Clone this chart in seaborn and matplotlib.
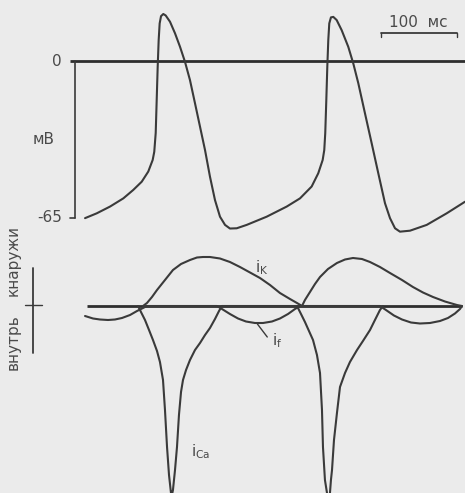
import numpy as np
import pandas as pd
import matplotlib
matplotlib.use("Agg")
import matplotlib.pyplot as plt
import seaborn as sns

# ---------------- data (time in ms, voltage in mV, currents in arb. units) ----
v_t = [13.2, 28.6, 46.1, 63.6, 76.7, 87.8, 96.4, 102.2, 104.3, 106.2, 107.5, 108.8, 110.1,
       111.4, 113.2, 116.2, 119.3, 125.0, 131.6, 138.2, 144.7, 151.3, 157.9, 164.5, 171.1,
       177.6, 184.2, 190.8, 197.4, 203.9, 212.8, 225.9, 252.2, 278.6, 296.1, 311.4, 320.1,
       325.9, 328.0, 329.3, 330.7, 332.0, 333.3, 334.6, 336.8, 339.9, 344.3, 350.9, 359.6,
       366.2, 372.8, 381.6, 390.4, 399.1, 407.9, 414.5, 421.1, 427.6, 440.8, 462.8, 489.1,
       513.2]
v_mv = [-65.1, -63.1, -60.3, -56.9, -53.4, -50.0, -45.8, -41.0, -37.6, -29.8, -16.1, -2.4,
        8.7, 15.6, 18.6, 19.5, 18.9, 16.3, 11.5, 5.9, -0.3, -7.9, -17.5, -27.2, -36.9, -47.9,
        -57.6, -64.5, -67.9, -69.4, -69.3, -67.9, -64.5, -60.3, -56.9, -52.0, -46.5, -41.0,
        -36.9, -29.9, -16.1, -2.4, 8.7, 15.6, 18.1, 18.3, 17.0, 12.8, 5.9, -1.0, -9.2, -21.7,
        -34.1, -46.5, -58.9, -65.1, -69.3, -70.7, -70.3, -67.9, -63.1, -58.3]

ik_t = [89.5, 94.7, 101.3, 107.9, 118.4, 128.9, 139.5, 151.3, 160.5, 168.4, 177.6, 190.8,
        203.9, 217.1, 230.3, 243.4, 256.6, 269.7, 282.9, 292.1, 298.7, 302.6, 309.2, 315.8,
        322.4, 332.9, 344.7, 355.3, 365.8, 377.6, 388.2, 401.3, 414.5, 430.3, 444.7, 457.9,
        471.1, 486.8, 502.6, 509.2]
ik_v = [0, 0.3, 0.9, 1.6, 2.6, 3.6, 4.2, 4.6, 4.85, 4.9, 4.9, 4.75, 4.4, 3.9, 3.35, 2.8,
        2.1, 1.3, 0.7, 0.3, 0, 0.6, 1.4, 2.2, 2.9, 3.7, 4.3, 4.65, 4.8, 4.7, 4.4, 3.9, 3.3,
        2.6, 1.9, 1.35, 0.9, 0.45, 0.1, 0]

if_t = [13.2, 23.7, 32.9, 43.4, 52.6, 61.8, 72.4, 81.6, 89.5, 94.7, 186.8, 193.4, 203.9,
        214.5, 225.0, 236.8, 247.4, 259.2, 269.7, 280.3, 289.5, 296.1, 401.3, 409.2, 419.7,
        430.3, 442.1, 453.9, 467.1, 480.3, 490.8, 500.0, 506.6, 509.2]
if_v = [-1.0, -1.25, -1.35, -1.4, -1.35, -1.2, -0.9, -0.5, -0.2, 0, 0, -0.3, -0.8, -1.25,
        -1.55, -1.7, -1.7, -1.55, -1.25, -0.8, -0.3, 0, 0, -0.4, -0.95, -1.35, -1.65, -1.75,
        -1.7, -1.5, -1.2, -0.75, -0.3, 0]

ica_t = [82.9, 86.8, 92.1, 97.4, 102.6, 107.9, 111.8, 115.8, 118.4, 121.1, 123.7, 126.3,
         127.0, 128.9, 131.6, 134.2, 136.8, 139.5, 142.1, 146.1, 151.3, 157.9, 164.5, 171.1,
         177.6, 184.2, 189.5, 193.4, 292.1, 297.4, 302.6, 307.9, 313.2, 318.4, 322.4, 325.0,
         326.3, 328.9, 331.6, 333.6, 335.5, 336.8, 338.2, 340.8, 344.7, 348.7, 355.3, 361.8,
         371.1, 378.9, 388.2, 394.7, 401.3, 405.3]
ica_v = [0, -0.6, -1.4, -2.4, -3.4, -4.5, -5.6, -7.4, -10.4, -14.1, -16.9, -18.7, -19.1,
         -18.4, -16.4, -14.1, -10.9, -8.6, -7.4, -6.4, -5.4, -4.4, -3.7, -2.9, -2.2, -1.3,
         -0.5, 0, 0, -0.8, -1.6, -2.5, -3.4, -4.9, -6.7, -10.4, -14.1, -17.4, -18.7, -19.1,
         -18.7, -17.4, -16.4, -13.4, -10.7, -8.1, -6.7, -5.6, -4.4, -3.5, -2.4, -1.4, -0.4, 0]

volt_ticks = ["0", "-65"]
scale_label = "100  мс"
unit_label = "мВ"
out_label = "кнаружи"
in_label = "внутрь"
curr_labels = [r"$\mathregular{i_K}$", r"$\mathregular{i_f}$", r"$\mathregular{i_{Ca}}$"]

# ---------------- figure ----------------
sns.set_theme(style="white")
plt.rcParams["font.family"] = ["DejaVu Sans"]
plt.rcParams["mathtext.fontset"] = "dejavusans"

BG = "#ebebeb"
INK = "#3a3a3a"
TXT = "#4a4a4a"
FS = 11

fig = plt.figure(figsize=(4.65, 4.93), dpi=100, facecolor=BG)
ax_v = fig.add_axes([0, 1 - 250 / 493, 1, 250 / 493])
ax_i = fig.add_axes([0, 0, 1, 243 / 493])
for ax in (ax_v, ax_i):
    ax.set_facecolor(BG)
    ax.set_xlim(-98.7, 513.2)
    ax.set_axis_off()
ax_v.set_ylim(-78.3, 25.3)
ax_i.set_ylim(-18.7, 5.6)

# ---- voltage panel ----
ax_v.plot([-6.6, 513.2], [0, 0], color="#2e2e2e", lw=2.0, solid_capstyle="butt")
ax_v.plot([0, 0], [0, -65], color=INK, lw=1.2)
ax_v.plot([-6.6, 0], [-65, -65], color=INK, lw=1.2)
sns.lineplot(x=v_t, y=v_mv, ax=ax_v, sort=False, estimator=None, color=INK, lw=1.5)
ax_v.text(-17, 0, volt_ticks[0], ha="right", va="center", fontsize=FS, color=TXT)
ax_v.text(-17, -65, volt_ticks[1], ha="right", va="center", fontsize=FS, color=TXT)
ax_v.text(-41, -32.7, unit_label, ha="center", va="center", fontsize=FS, color=TXT)
# 100 ms scale bar
ax_v.plot([402.6, 502.6], [11.6, 11.6], color=INK, lw=1.3)
ax_v.plot([402.6, 402.6], [11.6, 10.0], color=INK, lw=1.0)
ax_v.plot([502.6, 502.6], [11.6, 10.0], color=INK, lw=1.0)
ax_v.text(452, 15.8, scale_label, ha="center", va="center", fontsize=FS, color=TXT)

# ---- current panel ----
ax_i.plot([15.8, 509], [0, 0], color="#2e2e2e", lw=2.0, solid_capstyle="butt")
ax_i.plot([-55.3, -55.3], [3.8, -4.7], color=INK, lw=1.3)
ax_i.plot([-65.8, -43.4], [0.1, 0.1], color=INK, lw=1.0)
ax_i.text(-81.6, 4.6, out_label, rotation=90, ha="center", va="center", fontsize=FS, color=TXT)
ax_i.text(-81.6, -3.6, in_label, rotation=90, ha="center", va="center", fontsize=FS, color=TXT)

cur = pd.concat([
    pd.DataFrame({"t": ik_t, "i": ik_v, "s": "iK"}),
    pd.DataFrame({"t": if_t, "i": if_v, "s": "if"}),
    pd.DataFrame({"t": ica_t, "i": ica_v, "s": "iCa"}),
], ignore_index=True)
sns.lineplot(data=cur, x="t", y="i", hue="s", ax=ax_i, sort=False, estimator=None,
             palette={"iK": INK, "if": INK, "iCa": INK}, lw=1.5, legend=False)

ax_i.text(246, 3.8, curr_labels[0], ha="center", va="center", fontsize=FS, color=TXT)
ax_i.plot([240, 253], [-1.8, -3.1], color=INK, lw=1.0)
ax_i.text(266, -3.5, curr_labels[1], ha="center", va="center", fontsize=FS, color=TXT)
ax_i.text(166, -14.6, curr_labels[2], ha="center", va="center", fontsize=FS, color=TXT)

fig.savefig("out.png", dpi=100, facecolor=BG)
